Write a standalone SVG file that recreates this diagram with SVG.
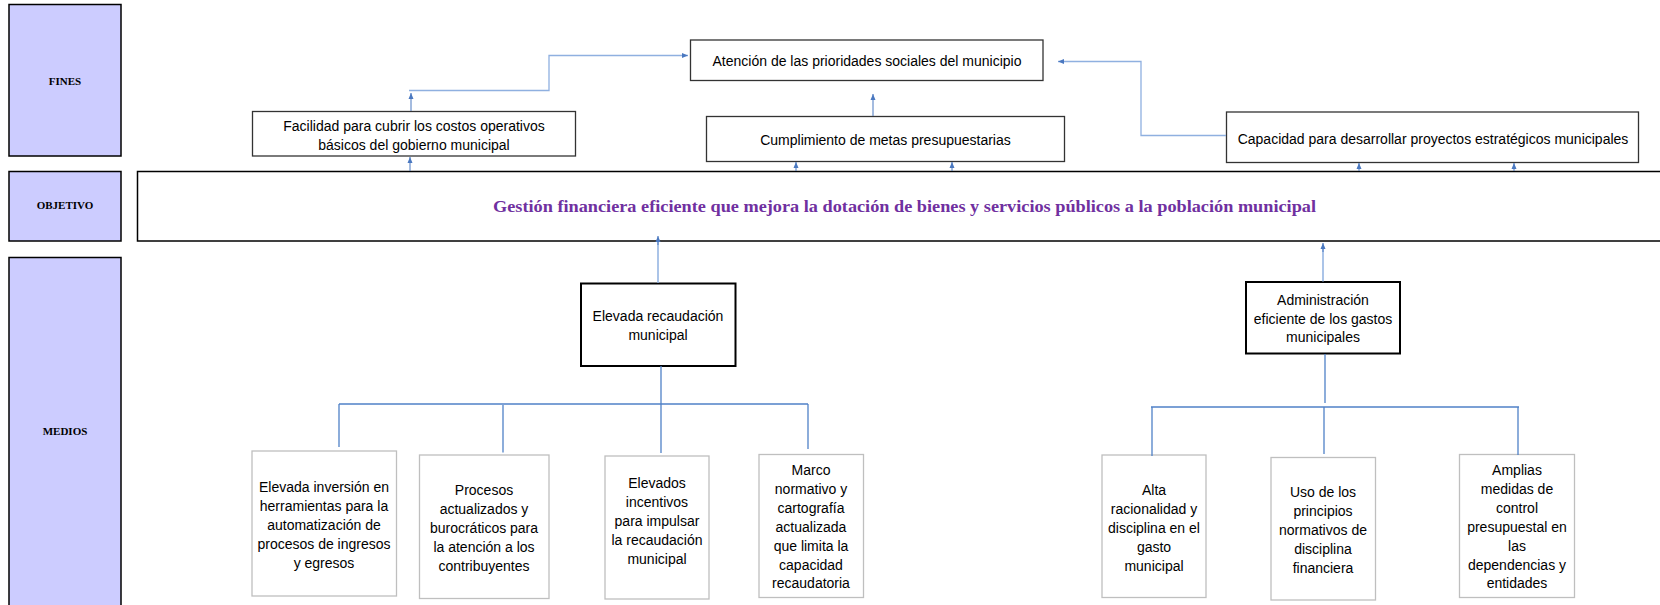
<svg xmlns="http://www.w3.org/2000/svg" width="1660" height="605" viewBox="0 0 1660 605">
  <defs>
    <style>
      .lbl { fill: #ccccff; stroke: #000; stroke-width: 1.5; }
      .lbltxt { font-family: "Liberation Serif", serif; font-weight: bold; font-size: 11px; fill: #000; text-anchor: middle; }
      .obj { fill: #fff; stroke: #000; stroke-width: 1.5; }
      .objtxt { font-family: "Liberation Serif", serif; font-weight: bold; font-size: 16.5px; fill: #7030a0; text-anchor: middle; }
      .fin { fill: #fff; stroke: #333; stroke-width: 1.3; }
      .med { fill: #fff; stroke: #000; stroke-width: 2; }
      .leaf { fill: #fff; stroke: #bfbfbf; stroke-width: 1.3; }
      .t { font-family: "Liberation Sans", Arial, sans-serif; font-size: 14px; fill: #000; text-anchor: middle; }
      .arr { fill: none; stroke: #4a78c0; stroke-width: 1; marker-end: url(#ah); }
      .elba { fill: none; stroke: #8fb0e0; stroke-width: 1.3; marker-end: url(#ah); }
      .tree { fill: none; stroke: #4f81c7; stroke-width: 1.3; }
      .treel { fill: none; stroke: #8fb0e0; stroke-width: 1.5; }
    </style>
    <marker id="ah" markerWidth="6" markerHeight="6" refX="6" refY="3" orient="auto" markerUnits="userSpaceOnUse">
      <path d="M0,0.5 L6,3 L0,5.5 z" fill="#4a78c0"/>
    </marker>
  </defs>

  <rect width="1660" height="605" fill="#fff"/>

  <g id="label-fines">
    <rect class="lbl" x="9" y="4.5" width="112" height="151.5"/>
    <text class="lbltxt" x="65" y="85">FINES</text>
  </g>
  <g id="label-objetivo">
    <rect class="lbl" x="9" y="171.5" width="112" height="69.5"/>
    <text class="lbltxt" x="65" y="209">OBJETIVO</text>
  </g>
  <g id="label-medios">
    <rect class="lbl" x="9" y="257.5" width="112" height="360"/>
    <text class="lbltxt" x="65" y="435">MEDIOS</text>
  </g>

  <g id="objetivo">
    <rect class="obj" x="137.5" y="171.5" width="1530" height="69.5"/>
    <text class="objtxt" x="904.5" y="212" textLength="823" lengthAdjust="spacingAndGlyphs">Gestión financiera eficiente que mejora la dotación de bienes y servicios públicos a la población municipal</text>
  </g>

  <g id="fin-facilidad">
    <rect class="fin" x="252.5" y="111.5" width="323" height="44.5"/>
    <text class="t" x="414" y="131">Facilidad para cubrir los costos operativos</text>
    <text class="t" x="414" y="150">básicos del gobierno municipal</text>
  </g>
  <g id="fin-atencion">
    <rect class="fin" x="690.5" y="40" width="352.5" height="40.5"/>
    <text class="t" x="867" y="65.5">Atención de las prioridades sociales del municipio</text>
  </g>
  <g id="fin-cumplimiento">
    <rect class="fin" x="706.5" y="116.5" width="358" height="45"/>
    <text class="t" x="885.5" y="145">Cumplimiento de metas presupuestarias</text>
  </g>
  <g id="fin-capacidad">
    <rect class="fin" x="1226.5" y="112" width="412" height="50.5"/>
    <text class="t" x="1433" y="144">Capacidad para desarrollar proyectos estratégicos municipales</text>
  </g>

  <g id="medio-recaudacion">
    <rect class="med" x="581" y="283.5" width="154.5" height="82.5"/>
    <text class="t" x="658" y="320.5">Elevada recaudación</text>
    <text class="t" x="658" y="339.5">municipal</text>
  </g>
  <g id="medio-administracion">
    <rect class="med" x="1246" y="282" width="154" height="71.5"/>
    <text class="t" x="1323" y="304.5">Administración</text>
    <text class="t" x="1323" y="323.5">eficiente de los gastos</text>
    <text class="t" x="1323" y="342">municipales</text>
  </g>

  <g id="leaf-inversion">
    <rect class="leaf" x="252" y="451" width="144.5" height="145"/>
    <text class="t" x="324" y="492">Elevada inversión en</text>
    <text class="t" x="324" y="511">herramientas para la</text>
    <text class="t" x="324" y="530">automatización de</text>
    <text class="t" x="324" y="549">procesos de ingresos</text>
    <text class="t" x="324" y="568">y egresos</text>
  </g>
  <g id="leaf-procesos">
    <rect class="leaf" x="419.5" y="455" width="129.5" height="143.5"/>
    <text class="t" x="484" y="494.5">Procesos</text>
    <text class="t" x="484" y="513.5">actualizados y</text>
    <text class="t" x="484" y="532.5">burocráticos para</text>
    <text class="t" x="484" y="551.5">la atención a los</text>
    <text class="t" x="484" y="570.5">contribuyentes</text>
  </g>
  <g id="leaf-incentivos">
    <rect class="leaf" x="605" y="456" width="104" height="143"/>
    <text class="t" x="657" y="488">Elevados</text>
    <text class="t" x="657" y="507">incentivos</text>
    <text class="t" x="657" y="526">para impulsar</text>
    <text class="t" x="657" y="545">la recaudación</text>
    <text class="t" x="657" y="564">municipal</text>
  </g>
  <g id="leaf-marco">
    <rect class="leaf" x="759" y="454.5" width="104.5" height="143"/>
    <text class="t" x="811" y="474.5">Marco</text>
    <text class="t" x="811" y="493.5">normativo y</text>
    <text class="t" x="811" y="512.5">cartografía</text>
    <text class="t" x="811" y="531.5">actualizada</text>
    <text class="t" x="811" y="550.5">que limita la</text>
    <text class="t" x="811" y="569.5">capacidad</text>
    <text class="t" x="811" y="588">recaudatoria</text>
  </g>
  <g id="leaf-racionalidad">
    <rect class="leaf" x="1102" y="455" width="104" height="142.5"/>
    <text class="t" x="1154" y="494.5">Alta</text>
    <text class="t" x="1154" y="513.5">racionalidad y</text>
    <text class="t" x="1154" y="532.5">disciplina en el</text>
    <text class="t" x="1154" y="551.5">gasto</text>
    <text class="t" x="1154" y="570.5">municipal</text>
  </g>
  <g id="leaf-principios">
    <rect class="leaf" x="1271" y="457.5" width="104.5" height="142.5"/>
    <text class="t" x="1323" y="497">Uso de los</text>
    <text class="t" x="1323" y="516">principios</text>
    <text class="t" x="1323" y="535">normativos de</text>
    <text class="t" x="1323" y="554">disciplina</text>
    <text class="t" x="1323" y="573">financiera</text>
  </g>
  <g id="leaf-control">
    <rect class="leaf" x="1459.5" y="454.5" width="115" height="143"/>
    <text class="t" x="1517" y="474.5">Amplias</text>
    <text class="t" x="1517" y="493.5">medidas de</text>
    <text class="t" x="1517" y="512.5">control</text>
    <text class="t" x="1517" y="531.5">presupuestal en</text>
    <text class="t" x="1517" y="550.5">las</text>
    <text class="t" x="1517" y="569.5">dependencias y</text>
    <text class="t" x="1517" y="588">entidades</text>
  </g>

  <g id="connectors">
    <path class="arr" d="M410,171 L410,157"/>
    <path class="arr" d="M796,171 L796,162"/>
    <path class="arr" d="M952,171 L952,162"/>
    <path class="arr" d="M1359,171 L1359,163"/>
    <path class="arr" d="M1514,171 L1514,163"/>
    <path class="arr" d="M411,111 L411,93"/>
    <path class="elba" d="M409,90.5 L549,90.5 L549,55.5 L688,55.5"/>
    <path class="arr" d="M873,116 L873,94"/>
    <path class="elba" d="M1226,135.5 L1141,135.5 L1141,61.5 L1058,61.5"/>
    <path class="treel" d="M658,283 L658,242"/>
    <path class="arr" d="M658,245 L658,236"/>
    <path class="treel" d="M1323,281.5 L1323,249"/>
    <path class="arr" d="M1323,252 L1323,243"/>
    <path class="tree" d="M661,366 L661,453"/>
    <path class="tree" d="M339,404 L808,404"/>
    <path class="tree" d="M339,404 L339,447"/>
    <path class="tree" d="M503,405 L503,452.5"/>
    <path class="tree" d="M808,404 L808,449"/>
    <path class="tree" d="M1325,354 L1325,403"/>
    <path class="tree" d="M1151,407 L1519,407"/>
    <path class="tree" d="M1152,407 L1152,456"/>
    <path class="tree" d="M1324,407 L1324,454"/>
    <path class="tree" d="M1518,407 L1518,455"/>
  </g>
</svg>
